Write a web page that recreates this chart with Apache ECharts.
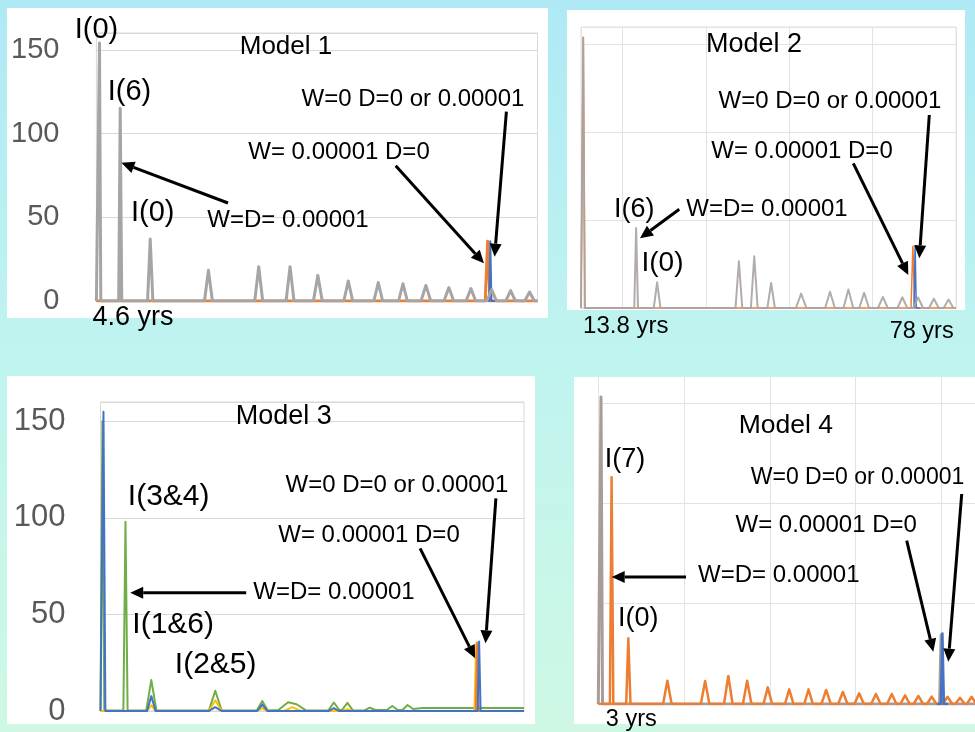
<!DOCTYPE html>
<html><head><meta charset="utf-8">
<script src="https://cdn.jsdelivr.net/npm/echarts@6/dist/echarts.min.js"></script>
<style>html,body{margin:0;padding:0;background:#bff3ef;}#c{width:975px;height:732px;}</style>
</head><body><div id="c"></div>
<script>
// ---------- data (x in % of each panel's time axis, y = peak value) ----------
const yTicks = [0, 50, 100, 150];

// Model 1
const m1GreyX = [0.7, 5.4, 12.2, 25.4, 36.8, 43.9, 50.2, 57.1, 63.9, 69.5, 74.7, 79.9, 84.9, 89.6, 93.9, 98.2];
const m1GreyY = [154, 115, 37, 18.3, 20.5, 20.5, 15.3, 12, 11, 10.3, 9.3, 8, 7.4, 6.8, 6.2, 5.4];
const m1GreyW = [0.3, 0.35, 0.6, 0.9, 0.9, 0.9, 1, 1, 1, 1, 1.1, 1.1, 1.1, 1.1, 1.1, 1.1];
const m1OrangeX = [88.7], m1OrangeY = [35.6], m1OrangeW = [0.55];
const m1BlueX = [89.3], m1BlueY = [35.6], m1BlueW = [0.25];

// Model 2
const m2GreyX = [0.6, 14.7, 20.3, 42.1, 46.2, 50.7, 58.7, 66.4, 71.3, 75.5, 80.5, 85.7, 89.9, 94.1, 98.0];
const m2GreyY = [154, 45.6, 14.6, 26.6, 29.5, 14.3, 8.2, 9.3, 10.5, 8.6, 6.3, 6.1, 6, 5.3, 4.8];
const m2GreyW = [0.4, 0.5, 0.9, 0.9, 0.9, 1.0, 1.4, 1.3, 1.3, 1.3, 1.3, 1.3, 1.3, 1.3, 1.3];
const m2OrangeX = [0.6, 88.5], m2OrangeY = [154, 35.2], m2OrangeW = [0.45, 0.5];
const m2BlueX = [89.1], m2BlueY = [35.2], m2BlueW = [0.3];

// Model 3
const m3GreenX = [0, 0.05, 0.45, 0.9, 5.4, 5.9, 6.4, 10.8, 12.0, 13.2, 25.6, 27.1, 28.6, 36.9, 38.2, 39.5, 42.0, 44.3, 46.3, 48.5, 53.8, 55.1, 56.4, 57.0, 58.3, 59.6, 62.3, 63.6, 64.9, 67.6, 68.9, 70.2, 71.3, 72.5, 73.8, 76, 100];
const m3GreenY = [0.3, 0.3, 150, 0.3, 0.3, 98, 0.3, 0.3, 16, 0.3, 0.3, 10.5, 0.3, 0.3, 5.2, 0.3, 0.5, 4.5, 3.5, 0.3, 0.3, 4.4, 0.5, 0.5, 4.2, 0.3, 0.3, 1.7, 0.5, 0.5, 2.6, 0.5, 0.5, 3.1, 1, 1.6, 1.6];
const m3BlueX = [0.7, 12.0, 27.1, 38.2, 55.1, 89.4], m3BlueY = [155, 7.7, 2, 3.3, 1.5, 36], m3BlueW = [0.45, 1.0, 1.5, 1.2, 1.2, 0.35];
const m3YellowX = [12.0, 27.1, 38.2, 45.3, 58.3, 88.7], m3YellowY = [3, 5.6, 1.5, 2, 1, 35], m3YellowW = [1, 1.5, 1.2, 2, 1.2, 0.4];
const m3OrangeX = [88.95], m3OrangeY = [35.5], m3OrangeW = [0.35];

// Model 4 (visible part of the time axis: 0 .. 87.8)
const m4GreyX = [0.63, 79.9], m4GreyY = [153, 34.4], m4GreyW = [0.35, 0.35];
const m4OrangeX = [3.1, 7.0, 16.1, 24.9, 30.3, 34.7, 39.5, 44.5, 49.0, 53.1, 57.0, 60.8, 64.7, 68.4, 71.5, 74.6, 77.7, 81.4, 84.3, 87.0];
const m4OrangeY = [113, 32.8, 11.6, 11.5, 14, 11.6, 8.3, 7.3, 7.3, 7.0, 6.0, 5.3, 5.0, 5.0, 4.3, 4.0, 3.7, 3.6, 3.1, 3.6];
const m4OrangeW = [0.4, 0.5, 1, 1, 1, 1, 1, 1, 1, 1.1, 1.1, 1.1, 1.1, 1.1, 1.1, 1.1, 1.1, 1.1, 1.1, 1.1];
const m4BlueX = [80.2], m4BlueY = [35.2], m4BlueW = [0.35];

// ---------- helpers ----------
const FONT = '"Liberation Sans", Arial, Helvetica, sans-serif';
function spikes(xs, ys, ws, from, to) {
  const pts = [[from, 0]];
  xs.forEach((x, i) => { pts.push([x - ws[i], 0], [x, ys[i]], [x + ws[i], 0]); });
  pts.push([to, 0]);
  return pts;
}
function zip(xs, ys) { return xs.map((x, i) => [x, ys[i]]); }
const C = { grey: '#a5a5a5', orange: '#ed7d31', blue: '#4472c4', yellow: '#ffc000', green: '#70ad47' };
function line(name, data, color, width, xi, yi, opacity) {
  return { name, type: 'line', data, xAxisIndex: xi, yAxisIndex: yi, showSymbol: false, silent: true,
    lineStyle: { color, width, join: 'round', opacity: opacity == null ? 1 : opacity }, itemStyle: { color }, animation: false };
}
function txt(text, x, y, size) {
  return { type: 'text', x, y, z: 100, style: { text, font: size + 'px ' + FONT, fill: '#000', align: 'center', verticalAlign: 'middle' } };
}
function arrow(x1, y1, x2, y2) {
  const a = Math.atan2(y2 - y1, x2 - x1), L = 13, W = 6;
  const bx = x2 - L * Math.cos(a), by = y2 - L * Math.sin(a);
  return { type: 'group', z: 100, children: [
    { type: 'line', z: 100, shape: { x1, y1, x2: bx, y2: by }, style: { stroke: '#000', lineWidth: 3 } },
    { type: 'polygon', z: 100, shape: { points: [[x2, y2], [bx + W * Math.sin(a), by - W * Math.cos(a)], [bx - W * Math.sin(a), by + W * Math.cos(a)]] }, style: { fill: '#000' } }
  ] };
}
function panel(x, y, w, h) { return { type: 'rect', z: -90, shape: { x, y, width: w, height: h }, style: { fill: '#fff' } }; }

const chart = echarts.init(document.getElementById('c'), null, { renderer: 'canvas' });
const hidden = { show: false };

chart.setOption({
  animation: false,
  grid: [
    { left: 96.4, top: 33, width: 441.1, height: 268, show: true, borderColor: '#d9d9d9', borderWidth: 1, outerBoundsMode: 'none' },
    { left: 581, top: 27, width: 375, height: 281, show: true, borderColor: '#e3e3e3', borderWidth: 1, outerBoundsMode: 'none' },
    { left: 100.5, top: 402, width: 423.5, height: 309, show: true, borderColor: '#d9d9d9', borderWidth: 1, outerBoundsMode: 'none' },
    { left: 598.3, top: 377, width: 376.7, height: 327, show: false, outerBoundsMode: 'none' }
  ],
  xAxis: [
    { gridIndex: 0, type: 'value', min: 0, max: 100, axisLine: { lineStyle: { color: '#bfbfbf' } }, axisTick: hidden, axisLabel: hidden, splitLine: hidden },
    { gridIndex: 1, type: 'value', min: 0, max: 100, axisLine: { lineStyle: { color: '#d9d9d9' } }, axisTick: hidden, axisLabel: hidden, splitLine: hidden },
    { gridIndex: 1, type: 'value', min: 0, max: 4.5, interval: 1, inverse: true, axisLine: hidden, axisTick: hidden, axisLabel: hidden, splitLine: { show: true, lineStyle: { color: '#e3e3e3' } } },
    { gridIndex: 2, type: 'value', min: 0, max: 100, axisLine: { lineStyle: { color: '#d9d9d9' } }, axisTick: hidden, axisLabel: hidden, splitLine: hidden },
    { gridIndex: 3, type: 'value', min: 0, max: 87.8, interval: 20, axisLine: { lineStyle: { color: '#d9d9d9' } }, axisTick: hidden, axisLabel: hidden, splitLine: { show: true, showMaxLine: false, lineStyle: { color: '#e3e3e3' } } }
  ],
  yAxis: [
    { gridIndex: 0, type: 'value', min: 0, max: 160, interval: 50, axisLine: hidden, axisTick: hidden, axisLabel: { fontSize: 29, color: '#595959', fontFamily: FONT, margin: 37, showMaxLabel: false }, splitLine: { lineStyle: { color: '#d9d9d9' } } },
    { gridIndex: 1, type: 'value', min: 0, max: 160, interval: 50, axisLine: hidden, axisTick: hidden, axisLabel: hidden, splitLine: { lineStyle: { color: '#e3e3e3' } } },
    { gridIndex: 2, type: 'value', min: 0, max: 160, interval: 50, axisLine: hidden, axisTick: hidden, axisLabel: { fontSize: 31, color: '#595959', fontFamily: FONT, margin: 35, showMaxLabel: false }, splitLine: { lineStyle: { color: '#d9d9d9' } } },
    { gridIndex: 3, type: 'value', min: 0, max: 163, interval: 50, axisLine: hidden, axisTick: hidden, axisLabel: hidden, splitLine: { showMaxLine: false, lineStyle: { color: '#e3e3e3' } } }
  ],
  series: [
    line('M1 W=0.00001 D=0', spikes(m1OrangeX, m1OrangeY, m1OrangeW, 0, 100), C.orange, 3, 0, 0),
    line('M1 W=0 D=0 or 0.00001', spikes(m1BlueX, m1BlueY, m1BlueW, 87.5, 90.5), C.blue, 2, 0, 0),
    line('M1 W=D=0.00001', spikes(m1GreyX, m1GreyY, m1GreyW, 0, 100), C.grey, 3, 0, 0),

    line('M2 W=0.00001 D=0', spikes(m2OrangeX, m2OrangeY, m2OrangeW, 0, 100), C.orange, 1.5, 1, 1),
    line('M2 W=0 D=0 or 0.00001', spikes(m2BlueX, m2BlueY, m2BlueW, 87.5, 90.5), C.blue, 1.5, 1, 1),
    line('M2 W=D=0.00001', spikes(m2GreyX, m2GreyY, m2GreyW, 0, 100), '#aaa4a2', 2, 1, 1, 0.9),

    line('M3 green', zip(m3GreenX, m3GreenY), C.green, 2, 3, 2),
    line('M3 yellow', spikes(m3YellowX, m3YellowY, m3YellowW, 0, 100), C.yellow, 2, 3, 2),
    line('M3 orange', spikes(m3OrangeX, m3OrangeY, m3OrangeW, 87.5, 90.5), C.orange, 2, 3, 2),
    line('M3 blue', spikes(m3BlueX, m3BlueY, m3BlueW, 0, 100), C.blue, 2, 3, 2),

    line('M4 grey', spikes(m4GreyX, m4GreyY, m4GreyW, 0, 87.8), '#a89c96', 3, 4, 3),
    line('M4 orange', spikes(m4OrangeX, m4OrangeY, m4OrangeW, 0, 87.8), C.orange, 2.5, 4, 3),
    line('M4 blue', spikes(m4BlueX, m4BlueY, m4BlueW, 79, 81.5), C.blue, 2.5, 4, 3)
  ],
  graphic: [
    { type: 'rect', z: -100, shape: { x: 0, y: 0, width: 975, height: 732 },
      style: { fill: new echarts.graphic.LinearGradient(0, 0, 0, 1, [
        { offset: 0, color: '#afe9f5' }, { offset: 0.5, color: '#c0f4ef' }, { offset: 1, color: '#cef8e4' }]) } },
    panel(7, 8, 541, 310),
    panel(567, 10, 398, 300),
    panel(7, 376, 528, 348),
    panel(574, 377, 401, 347),

    // Model 1
    txt('I(0)', 96.5, 30, 29),
    txt('Model 1', 286, 47, 26),
    txt('I(6)', 129.5, 92, 29),
    txt('W=0 D=0 or 0.00001', 413, 99, 24),
    txt('W= 0.00001 D=0', 339, 152, 24),
    txt('I(0)', 152.7, 213, 29),
    txt('W=D= 0.00001', 288, 220, 24),
    txt('4.6 yrs', 133, 318, 27),
    arrow(228, 203, 121.4, 162.7),
    arrow(395.7, 165.7, 484, 263.3),
    arrow(506.4, 111.7, 494.6, 256.7),

    // Model 2
    txt('Model 2', 754, 45, 27),
    txt('W=0 D=0 or 0.00001', 830, 101.7, 24),
    txt('W= 0.00001 D=0', 802, 151.7, 24),
    txt('I(6)', 634.3, 209.3, 27),
    txt('W=D= 0.00001', 767, 209.3, 24),
    txt('I(0)', 662.5, 263.3, 28),
    txt('13.8 yrs', 625.8, 326.5, 24),
    txt('78 yrs', 921.7, 331.7, 23.5),
    arrow(679.3, 209.3, 640, 238.3),
    arrow(853.3, 163.3, 908.3, 275),
    arrow(929.3, 115, 919.3, 258.3),

    // Model 3
    txt('Model 3', 283.7, 416.7, 27),
    txt('I(3&4)', 168.7, 496.7, 30),
    txt('W=0 D=0 or 0.00001', 396.9, 485, 24),
    txt('W= 0.00001 D=0', 369, 535.7, 24),
    txt('W=D= 0.00001', 334, 592.7, 24),
    txt('I(1&6)', 173.2, 625, 30),
    txt('I(2&5)', 215.7, 665, 30),
    arrow(246.2, 592.7, 130.2, 592.7),
    arrow(420.1, 548.3, 475.2, 658.3),
    arrow(495.9, 498.3, 485.5, 643.3),

    // Model 4
    txt('Model 4', 785.8, 426, 26.5),
    txt('I(7)', 625, 460, 27),
    txt('W=0 D=0 or 0.00001', 857.5, 477.3, 23),
    txt('W= 0.00001 D=0', 826.2, 525, 24),
    txt('W=D= 0.00001', 778.8, 575, 24),
    txt('I(0)', 638.3, 618.3, 27),
    txt('3 yrs', 631.3, 720, 23.5),
    arrow(686, 577, 611.7, 577),
    arrow(906.7, 540.7, 933.3, 651.7),
    arrow(961.7, 494, 948.3, 661.7)
  ]
});
</script></body></html>
